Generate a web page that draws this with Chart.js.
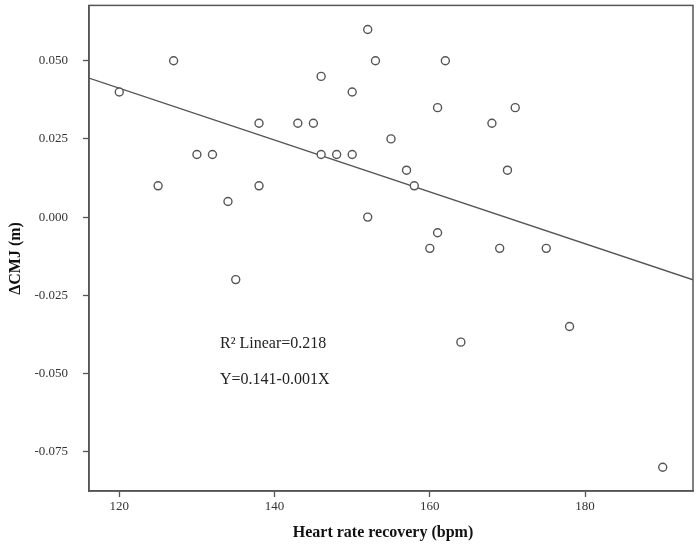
<!DOCTYPE html>
<html>
<head>
<meta charset="utf-8">
<script src="https://cdn.jsdelivr.net/npm/chart.js@4"></script>
<style>
  html, body { margin: 0; padding: 0; background: #fff; }
  #wrap { width: 700px; height: 545px; }
</style>
</head>
<body>
<div id="wrap"><canvas id="c" width="700" height="545"></canvas></div>
<script>
// scatter: heart rate recovery vs change in CMJ
const hrRecovery = [120, 127, 125, 130, 132, 134, 135, 138, 138, 143, 145, 146, 146, 148, 150, 150, 152,
  153, 152, 155, 157, 158, 161, 162, 161, 160, 168, 171, 170, 169, 175, 164, 178, 190];
const deltaCmj = [0.040, 0.050, 0.010, 0.020, 0.020, 0.005, -0.020, 0.030, 0.010, 0.030, 0.030, 0.045, 0.020, 0.020, 0.020, 0.040, 0.060,
  0.050, 0.000, 0.025, 0.015, 0.010, 0.035, 0.050, -0.005, -0.010, 0.030, 0.035, 0.015, -0.010, -0.010, -0.040, -0.035, -0.080];
const xTicks = [120, 140, 160, 180];
const yTicks = [-0.075, -0.050, -0.025, 0.000, 0.025, 0.050];
const X_MIN = 116.1, X_MAX = 193.9;
const Y_MIN = -0.0876, Y_MAX = 0.0677;
// fit line as drawn (Y = 0.141 - 0.001X, rounded in the label)
const fitIntercept = 0.1407;
const fitSlope = -0.000829;
const notes = ['R\u00B2 Linear=0.218', 'Y=0.141-0.001X'];
const xTitle = 'Heart rate recovery (bpm)';
const yTitle = '\u0394CMJ (m)';

const GREY = '#555';
const SERIF = '"Liberation Serif", "Times New Roman", serif';

const points = hrRecovery.map((x, i) => ({ x, y: deltaCmj[i] }));
const fitLine = [X_MIN, X_MAX].map(x => ({ x, y: fitIntercept + fitSlope * x }));

// box around plot area, axis titles and the two text notes
const frame = {
  id: 'frame',
  afterDraw(chart) {
    const { ctx, chartArea: a } = chart;
    ctx.save();
    ctx.strokeStyle = GREY;
    ctx.lineWidth = 1.5;
    ctx.strokeRect(a.left, a.top, a.right - a.left, a.bottom - a.top);

    ctx.fillStyle = '#222';
    ctx.font = '16px ' + SERIF;
    ctx.textBaseline = 'middle';
    ctx.fillText(notes[0], a.left + 131, a.top + 338);
    ctx.fillText(notes[1], a.left + 131, a.top + 374);

    ctx.fillStyle = '#111';
    ctx.font = 'bold 16px ' + SERIF;
    ctx.textAlign = 'center';
    ctx.fillText(xTitle, a.left + 294, a.bottom + 42);
    ctx.translate(15.5, a.top + 253);
    ctx.rotate(-Math.PI / 2);
    ctx.fillText(yTitle, 0, 0);
    ctx.restore();
  }
};

new Chart(document.getElementById('c'), {
  type: 'scatter',
  data: {
    datasets: [
      { data: points, pointStyle: 'circle', pointRadius: 4, pointBorderWidth: 1.4,
        pointBorderColor: GREY, pointBackgroundColor: '#fff', order: 1 },
      { type: 'line', data: fitLine, borderColor: GREY, borderWidth: 1.3,
        pointRadius: 0, fill: false, order: 2 }
    ]
  },
  options: {
    responsive: false,
    animation: false,
    layout: { padding: { left: 0, top: 3, right: 7, bottom: 0 } },
    plugins: { legend: { display: false }, tooltip: { enabled: false } },
    scales: {
      x: {
        type: 'linear', min: X_MIN, max: X_MAX,
        afterFit: s => { s.height = 54; s.paddingLeft = 0; s.paddingRight = 0; },
        afterBuildTicks: s => { s.ticks = xTicks.map(v => ({ value: v })); },
        grid: { drawOnChartArea: false, tickLength: 6, tickColor: GREY, tickWidth: 1.3 },
        border: { color: GREY, width: 1.5 },
        ticks: { color: '#333', font: { family: SERIF, size: 13 }, padding: 2, callback: v => v }
      },
      y: {
        type: 'linear', min: Y_MIN, max: Y_MAX,
        afterFit: s => { s.width = 89; s.paddingTop = 0; s.paddingBottom = 0; },
        afterBuildTicks: s => { s.ticks = yTicks.map(v => ({ value: v })); },
        grid: { drawOnChartArea: false, tickLength: 6, tickColor: GREY, tickWidth: 1.3 },
        border: { color: GREY, width: 1.5 },
        ticks: { color: '#333', font: { family: SERIF, size: 13 }, padding: 15,
          callback: v => v.toFixed(3) }
      }
    }
  },
  plugins: [frame]
});
</script>
</body>
</html>
